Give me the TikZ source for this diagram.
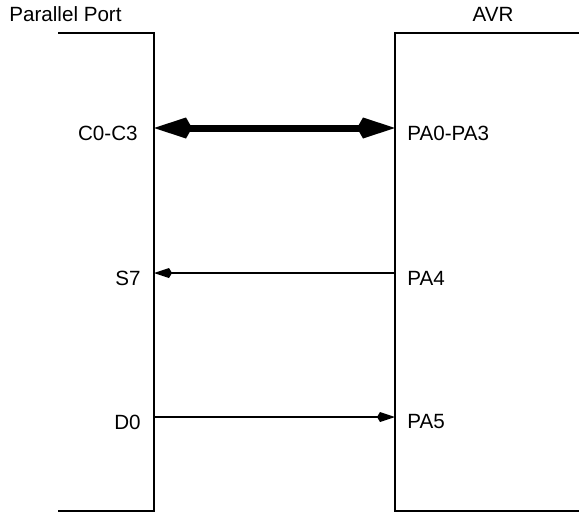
\documentclass[tikz,border=0pt]{standalone}
\usepackage{fontspec}
\setmainfont{Liberation Sans}
\usetikzlibrary{arrows.meta,positioning}

\begin{document}
\begin{tikzpicture}[
    x=0.5pt,y=-0.5pt,
    wall/.style = {line width=1pt},
    lbl/.style  = {font=\fontsize{10.3}{12}\selectfont,inner sep=0pt},
    pinl/.style = {lbl,anchor=east},
    pinr/.style = {lbl,anchor=west},
    bus/.style  = {{Kite[length=19pt,width=10.5pt,inset=3pt,line width=0pt]}-{Kite[length=19pt,width=10.5pt,inset=3pt,line width=0pt]},
                   line width=3.5pt},
    sig/.style  = {-{Kite[length=9pt,width=5pt,inset=1.5pt,line width=0pt]},line width=0.9pt},
  ]
  \useasboundingbox (0,0) rectangle (579,514);

  % titles
  \node[lbl] (pport) at (65.5,14) {Parallel Port};
  \node[lbl] (avr)   at (493,14)  {AVR};

  % the two sides
  \draw[wall] (58,33) -| (154,511) -- (58,511);
  \draw[wall] (580,33) -| (395,511) -- (580,511);

  % pins
  \foreach \n/\y in {c/128,s/273,d/417} {
    \coordinate (\n L) at (154,\y);
    \coordinate (\n R) at (395,\y);
  }

  \node[pinl] (c03)  at (138,133) {C0-C3};
  \node[pinl] (s7)   at (141,278) {S7};
  \node[pinl] (d0)   at (141,422) {D0};
  \node[pinr] (pa03) at (407,133) {PA0-PA3};
  \node[pinr] (pa4)  at (407,278) {PA4};
  \node[pinr] (pa5)  at (407,422) {PA5};

  \draw[bus] (cL) -- (cR);
  \draw[sig] (sR) -- (sL);
  \draw[sig] (dL) -- (dR);

\end{tikzpicture}
\end{document}
